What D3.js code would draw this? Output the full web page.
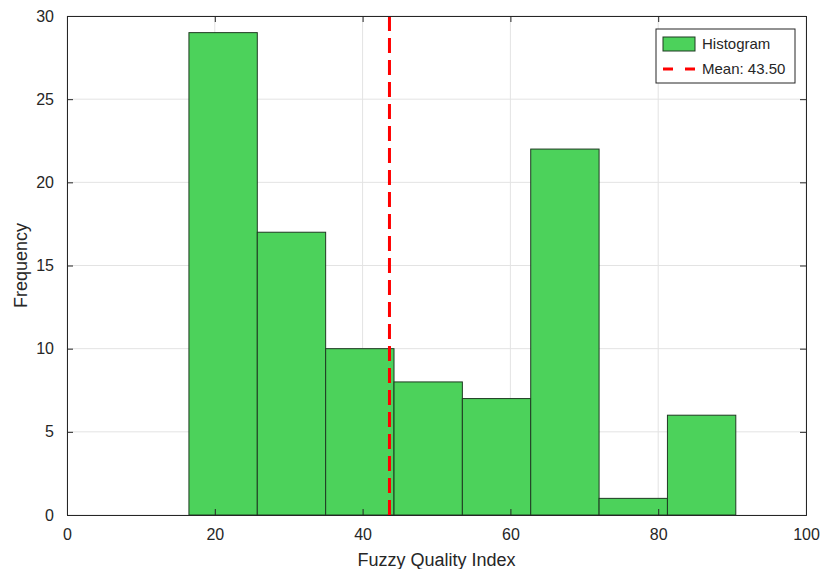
<!DOCTYPE html>
<html>
<head>
<meta charset="utf-8">
<script src="https://cdn.jsdelivr.net/npm/d3@7"></script>
<style>
  body { margin: 0; background: #fff; }
  text { font-family: "Liberation Sans", Arial, sans-serif; fill: #262626; }
</style>
</head>
<body>
<div id="chart"></div>
<script>
// Histogram data
var binEdges = [16.5, 25.75, 35.0, 44.25, 53.5, 62.75, 72.0, 81.25, 90.5];
var counts = [29, 17, 10, 8, 7, 22, 1, 6];
var meanValue = 43.50;
var xTicks = [0, 20, 40, 60, 80, 100];
var yTicks = [0, 5, 10, 15, 20, 25, 30];

var svgWidth = 822;
var svgHeight = 569;
var margin = { top: 16, right: 16, bottom: 54, left: 67 };
var chartWidth = svgWidth - margin.left - margin.right;
var chartHeight = svgHeight - margin.top - margin.bottom;

var svg = d3.select("#chart")
  .append("svg")
  .attr("width", svgWidth)
  .attr("height", svgHeight);

var chartGroup = svg.append("g")
  .attr("transform", `translate(${margin.left}, ${margin.top})`);

var x = d3.scaleLinear().domain([0, 100]).range([0, chartWidth]);
var y = d3.scaleLinear().domain([0, 30]).range([chartHeight, 0]);

// Grid lines
chartGroup.append("g")
  .selectAll("line.vgrid")
  .data(xTicks)
  .enter()
  .append("line")
  .attr("x1", d => x(d)).attr("x2", d => x(d))
  .attr("y1", 0).attr("y2", chartHeight)
  .attr("stroke", "#e3e3e3").attr("stroke-width", 1);

chartGroup.append("g")
  .selectAll("line.hgrid")
  .data(yTicks)
  .enter()
  .append("line")
  .attr("x1", 0).attr("x2", chartWidth)
  .attr("y1", d => y(d)).attr("y2", d => y(d))
  .attr("stroke", "#e3e3e3").attr("stroke-width", 1);

// Bars
var bins = counts.map((c, i) => ({ x0: binEdges[i], x1: binEdges[i + 1], count: c }));

chartGroup.selectAll("rect.bar")
  .data(bins)
  .enter()
  .append("rect")
  .attr("class", "bar")
  .attr("x", d => x(d.x0))
  .attr("y", d => y(d.count))
  .attr("width", d => x(d.x1) - x(d.x0))
  .attr("height", d => y(0) - y(d.count))
  .attr("fill", "#4cd25b")
  .attr("stroke", "#1f3a22")
  .attr("stroke-width", 1);

// Mean line
chartGroup.append("line")
  .attr("x1", x(meanValue) + 1).attr("x2", x(meanValue) + 1)
  .attr("y1", 0).attr("y2", chartHeight)
  .attr("stroke", "#ff0000")
  .attr("stroke-width", 3)
  .attr("stroke-dasharray", "15,7");

// Axes (ticks inward, box on)
var bottomAxis = d3.axisBottom(x).tickValues(xTicks).tickSize(-6).tickPadding(14);
var leftAxis = d3.axisLeft(y).tickValues(yTicks).tickSize(-6).tickPadding(13);
var topAxis = d3.axisTop(x).tickValues(xTicks).tickSize(-6).tickFormat("");
var rightAxis = d3.axisRight(y).tickValues(yTicks).tickSize(-6).tickFormat("");

function styleAxis(g) {
  g.select(".domain").attr("stroke", "#262626").attr("stroke-width", 1);
  g.selectAll(".tick line").attr("stroke", "#262626");
  g.selectAll(".tick text").attr("font-size", 16).attr("fill", "#262626")
    .style("font-family", "'Liberation Sans', Arial, sans-serif");
}

chartGroup.append("g").attr("transform", `translate(0, ${chartHeight})`).call(bottomAxis).call(styleAxis);
chartGroup.append("g").call(leftAxis).call(styleAxis);
chartGroup.append("g").call(topAxis).call(styleAxis);
chartGroup.append("g").attr("transform", `translate(${chartWidth}, 0)`).call(rightAxis).call(styleAxis);

// Axis titles
chartGroup.append("text")
  .attr("x", chartWidth / 2)
  .attr("y", chartHeight + 51)
  .attr("text-anchor", "middle")
  .attr("font-size", 18)
  .text("Fuzzy Quality Index");

chartGroup.append("text")
  .attr("transform", "rotate(-90)")
  .attr("x", -chartHeight / 2)
  .attr("y", -40)
  .attr("text-anchor", "middle")
  .attr("font-size", 18)
  .text("Frequency");

// Legend
var legend = chartGroup.append("g")
  .attr("transform", `translate(${656 - margin.left}, ${29 - margin.top})`);

legend.append("rect")
  .attr("width", 139).attr("height", 54)
  .attr("fill", "#fff").attr("stroke", "#262626").attr("stroke-width", 1);

legend.append("rect")
  .attr("x", 7).attr("y", 8).attr("width", 32).attr("height", 14)
  .attr("fill", "#4cd25b").attr("stroke", "#1f3a22");

legend.append("line")
  .attr("x1", 7).attr("x2", 39).attr("y1", 40).attr("y2", 40)
  .attr("stroke", "#ff0000").attr("stroke-width", 3)
  .attr("stroke-dasharray", "10,12");

legend.append("text").attr("x", 46).attr("y", 20).attr("font-size", 15).text("Histogram");
legend.append("text").attr("x", 46).attr("y", 45).attr("font-size", 15).text("Mean: 43.50");
</script>
</body>
</html>
